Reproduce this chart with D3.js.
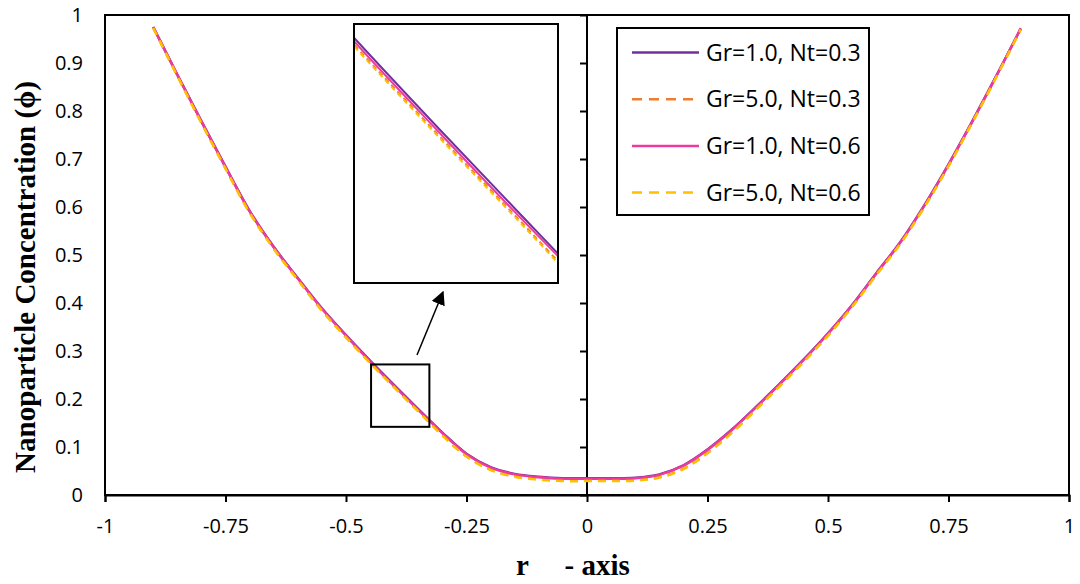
<!DOCTYPE html>
<html>
<head>
<meta charset="utf-8">
<script src="https://cdnjs.cloudflare.com/ajax/libs/d3/7.8.5/d3.min.js"></script>
<style>
  body { margin: 0; background: #fff; }
  svg { display: block; }
  .tick text { font-family: "Open Sans", sans-serif; font-size: 20px; fill: #000; }
</style>
</head>
<body>
<svg width="1080" height="584"></svg>
<script>
// r positions and the four phi curves
var rVals = [-0.9, -0.85, -0.8, -0.75, -0.7, -0.65, -0.6, -0.55, -0.5, -0.45, -0.4, -0.35, -0.3, -0.25, -0.2, -0.15, -0.1, -0.05,
    0, 0.05, 0.1, 0.15, 0.2, 0.25, 0.3, 0.35, 0.4, 0.45, 0.5, 0.55, 0.6, 0.65, 0.7, 0.75, 0.8, 0.85, 0.9];
var phiGr1Nt03 = [0.975, 0.876, 0.779, 0.684, 0.592, 0.517, 0.452, 0.389, 0.333, 0.280, 0.229, 0.179, 0.130, 0.086, 0.058, 0.044, 0.038, 0.035,
    0.035, 0.035, 0.036, 0.043, 0.062, 0.095, 0.136, 0.183, 0.232, 0.283, 0.337, 0.396, 0.462, 0.527, 0.604, 0.689, 0.780, 0.875, 0.972];
var phiGr5Nt03 = [0.974, 0.874, 0.776, 0.681, 0.589, 0.514, 0.449, 0.385, 0.329, 0.276, 0.225, 0.175, 0.125, 0.081, 0.053, 0.039, 0.033, 0.030,
    0.030, 0.030, 0.031, 0.037, 0.055, 0.088, 0.130, 0.178, 0.228, 0.279, 0.333, 0.393, 0.459, 0.524, 0.601, 0.686, 0.778, 0.873, 0.971];
var phiGr1Nt06 = [0.975, 0.875, 0.778, 0.683, 0.591, 0.516, 0.451, 0.388, 0.332, 0.278, 0.227, 0.177, 0.129, 0.085, 0.057, 0.043, 0.037, 0.034,
    0.034, 0.034, 0.035, 0.042, 0.061, 0.094, 0.135, 0.182, 0.231, 0.282, 0.336, 0.395, 0.461, 0.526, 0.603, 0.688, 0.779, 0.874, 0.972];
var phiGr5Nt06 = [0.973, 0.873, 0.775, 0.680, 0.588, 0.513, 0.448, 0.384, 0.328, 0.275, 0.224, 0.174, 0.124, 0.080, 0.052, 0.038, 0.032, 0.029,
    0.029, 0.029, 0.030, 0.036, 0.054, 0.087, 0.129, 0.177, 0.227, 0.278, 0.332, 0.392, 0.458, 0.523, 0.600, 0.685, 0.777, 0.872, 0.970];
var seriesNames = ["Gr=1.0, Nt=0.3", "Gr=5.0, Nt=0.3", "Gr=1.0, Nt=0.6", "Gr=5.0, Nt=0.6"];
var xTicks = [-1, -0.75, -0.5, -0.25, 0, 0.25, 0.5, 0.75, 1];
var yTicks = [0, 0.1, 0.2, 0.3, 0.4, 0.5, 0.6, 0.7, 0.8, 0.9, 1];
// region that is blown up in the inset
var zoomR = [-0.448, -0.327];
var zoomPhi = [0.142, 0.272];
var insetR = [-0.45, -0.325];
var insetPhi = [0.137, 0.288];

var svg = d3.select("svg"),
    width = +svg.attr("width"),
    height = +svg.attr("height");

var plotLeft = 105, plotRight = 1069, plotTop = 15, plotBottom = 495;

var x = d3.scaleLinear().domain([-1, 1]).range([plotLeft, plotRight]);
var y = d3.scaleLinear().domain([0, 1]).range([plotBottom, plotTop]);

var series = [
    { name: seriesNames[0], values: phiGr1Nt03, color: "#7030A0", dash: null },
    { name: seriesNames[1], values: phiGr5Nt03, color: "#ED7D31", dash: "8,6" },
    { name: seriesNames[2], values: phiGr1Nt06, color: "#EE3A9A", dash: null },
    { name: seriesNames[3], values: phiGr5Nt06, color: "#FFC000", dash: "8,6" }
];

function points(s) {
    return rVals.map(function(r, i) { return [r, s.values[i]]; });
}

// plot frame
svg.append("rect")
    .attr("x", plotLeft).attr("y", plotTop)
    .attr("width", plotRight - plotLeft).attr("height", plotBottom - plotTop)
    .attr("fill", "none").attr("stroke", "#000").attr("stroke-width", 2);

// x axis along the bottom
var xAxis = svg.append("g")
    .attr("transform", "translate(0," + plotBottom + ")")
    .call(d3.axisBottom(x).tickValues(xTicks).tickSize(7).tickPadding(17)
        .tickFormat(function(d) { return d; }));
xAxis.selectAll("line, path").attr("stroke", "#000").attr("stroke-width", 2);

// y axis crosses at r = 0, labels sit at the left of the frame
var yAxis = svg.append("g")
    .attr("transform", "translate(" + x(0) + ",0)")
    .call(d3.axisLeft(y).tickValues(yTicks).tickSize(7).tickFormat(""));
yAxis.selectAll("line, path").attr("stroke", "#000").attr("stroke-width", 2);
yAxis.select(".domain").attr("d", "M0," + plotBottom + "V" + plotTop);

var yLabels = svg.append("g")
    .attr("transform", "translate(83,0)")
    .call(d3.axisLeft(y).tickValues(yTicks).tickSize(0).tickPadding(0)
        .tickFormat(function(d) { return d; }));
yLabels.select(".domain").remove();

// curves
var line = d3.line()
    .x(function(d) { return x(d[0]); })
    .y(function(d) { return y(d[1]); })
    .curve(d3.curveCatmullRom);

svg.append("g").selectAll("path")
    .data(series)
    .enter().append("path")
    .attr("d", function(d) { return line(points(d)); })
    .attr("fill", "none")
    .attr("stroke", function(d) { return d.color; })
    .attr("stroke-width", 2.5)
    .attr("stroke-dasharray", function(d) { return d.dash; });

// box marking the zoomed region
svg.append("rect")
    .attr("x", x(zoomR[0])).attr("y", y(zoomPhi[1]))
    .attr("width", x(zoomR[1]) - x(zoomR[0]))
    .attr("height", y(zoomPhi[0]) - y(zoomPhi[1]))
    .attr("fill", "none").attr("stroke", "#000").attr("stroke-width", 2);

// arrow to the inset
svg.append("defs").append("marker")
    .attr("id", "arrowhead")
    .attr("viewBox", "0 0 10 10")
    .attr("refX", 9).attr("refY", 5)
    .attr("markerWidth", 14).attr("markerHeight", 14)
    .attr("markerUnits", "userSpaceOnUse")
    .attr("orient", "auto")
    .append("path").attr("d", "M0,0L10,5L0,10Z").attr("fill", "#000");

svg.append("line")
    .attr("x1", 417).attr("y1", 355)
    .attr("x2", 443).attr("y2", 292)
    .attr("stroke", "#000").attr("stroke-width", 1.5)
    .attr("marker-end", "url(#arrowhead)");

// inset
var inLeft = 354, inRight = 558, inTop = 24, inBottom = 283;
var ix = d3.scaleLinear().domain(insetR).range([inLeft, inRight]);
var iy = d3.scaleLinear().domain(insetPhi).range([inBottom, inTop]);

svg.select("defs").append("clipPath").attr("id", "insetClip")
    .append("rect")
    .attr("x", inLeft).attr("y", inTop)
    .attr("width", inRight - inLeft).attr("height", inBottom - inTop);

svg.append("rect")
    .attr("x", inLeft).attr("y", inTop)
    .attr("width", inRight - inLeft).attr("height", inBottom - inTop)
    .attr("fill", "#fff");

var insetLine = d3.line()
    .x(function(d) { return ix(d[0]); })
    .y(function(d) { return iy(d[1]); })
    .curve(d3.curveCatmullRom);

svg.append("g").attr("clip-path", "url(#insetClip)")
    .selectAll("path")
    .data(series)
    .enter().append("path")
    .attr("d", function(d) { return insetLine(points(d)); })
    .attr("fill", "none")
    .attr("stroke", function(d) { return d.color; })
    .attr("stroke-width", 2)
    .attr("stroke-dasharray", function(d) { return d.dash ? "5,4" : null; });

svg.append("rect")
    .attr("x", inLeft).attr("y", inTop)
    .attr("width", inRight - inLeft).attr("height", inBottom - inTop)
    .attr("fill", "none").attr("stroke", "#000").attr("stroke-width", 2);

// legend
var legend = svg.append("g");
legend.append("rect")
    .attr("x", 617).attr("y", 28)
    .attr("width", 252).attr("height", 187)
    .attr("fill", "#fff").attr("stroke", "#000").attr("stroke-width", 2);

var legendRow = legend.selectAll("g.row")
    .data(series)
    .enter().append("g")
    .attr("class", "row")
    .attr("transform", function(d, i) { return "translate(632," + (52.5 + i * 46.7) + ")"; });

legendRow.append("line")
    .attr("x1", 0).attr("x2", 67)
    .attr("stroke", function(d) { return d.color; })
    .attr("stroke-width", 2.5)
    .attr("stroke-dasharray", function(d) { return d.dash ? "10,7" : null; });

legendRow.append("text")
    .attr("x", 74)
    .attr("dy", "0.36em")
    .attr("font-family", "Open Sans, sans-serif")
    .attr("font-size", 23)
    .text(function(d) { return d.name; });

// axis titles
svg.append("text")
    .attr("x", 516).attr("y", 575)
    .attr("font-family", "Liberation Serif, Times New Roman, serif")
    .attr("font-weight", "bold")
    .attr("font-size", 29)
    .style("white-space", "pre")
    .text("r     - axis");

svg.append("text")
    .attr("transform", "translate(35,277) rotate(-90)")
    .attr("text-anchor", "middle")
    .attr("font-family", "Liberation Serif, Times New Roman, serif")
    .attr("font-weight", "bold")
    .attr("font-size", 29)
    .text("Nanoparticle Concentration (\u03d5)");
</script>
</body>
</html>
